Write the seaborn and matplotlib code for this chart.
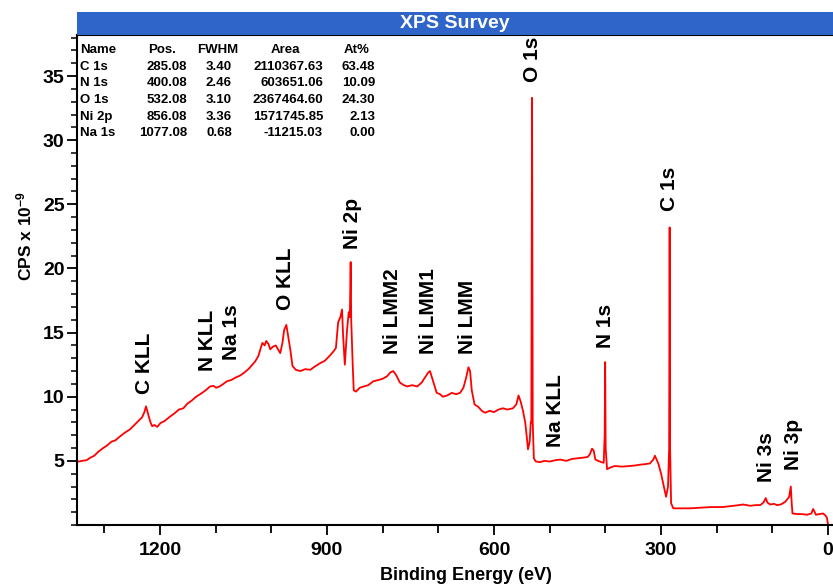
import numpy as np
import pandas as pd
import matplotlib
matplotlib.use("Agg")
import matplotlib.pyplot as plt
from matplotlib.ticker import MultipleLocator, FixedLocator
import seaborn as sns

# ---------------- data ----------------
binding_energy = [
    1349, 1340, 1332, 1325, 1318, 1311, 1302, 1295, 1287, 1280, 1272, 1263, 1254, 1246,
    1239, 1232, 1228, 1225, 1221, 1217, 1214, 1210, 1205, 1199, 1192, 1182, 1174, 1166,
    1158, 1151, 1143, 1135, 1126, 1118, 1110, 1104, 1099, 1093, 1086, 1080, 1072, 1064,
    1056, 1048, 1040, 1034, 1029, 1023, 1019, 1016, 1012, 1009, 1005, 1002, 997, 992,
    988, 984, 980, 977, 973, 970, 966, 962, 956, 948, 939, 930, 922, 913, 904, 895,
    889, 884, 880, 876, 873, 871, 868, 866, 864, 861, 859, 857.5, 856.5, 854, 852, 848,
    841, 834, 826, 817, 808, 800, 792, 786, 781, 776, 769, 762, 756, 747, 738, 730,
    724, 718, 715, 710, 703, 697, 692, 684, 676, 668, 661, 655, 650, 646, 643, 640,
    635, 628, 622, 616, 608, 600, 592, 584, 576, 566, 560, 556, 552, 548, 544, 541,
    539, 536, 534, 533, 531.7, 530.5, 528.5, 525, 517, 510, 500, 490, 481, 470, 460,
    450, 440, 432, 428, 424, 421, 418, 413, 407, 403, 401.3, 400.4, 399.5, 397, 390,
    383, 370, 356, 345, 338, 328, 320, 314, 311, 308, 305, 300, 295, 291, 287.5,
    285.5, 284.6, 283.8, 282, 278, 265, 248, 230, 210, 189, 170, 160, 153, 140, 130,
    122, 116, 112, 109, 104, 97, 92, 85, 77, 70, 67, 65.5, 64, 55, 47, 38, 30, 27,
    24, 22, 15, 9, 5, 2, 0,
]
cps = [
    4.92, 5.0, 5.05, 5.25, 5.4, 5.7, 6.0, 6.2, 6.5, 6.6, 6.9, 7.2, 7.45, 7.8,
    8.1, 8.4, 8.8, 9.25, 8.6, 8.0, 7.7, 7.8, 7.65, 7.95, 8.1, 8.45, 8.7, 9.0,
    9.1, 9.45, 9.7, 10.0, 10.25, 10.5, 10.8, 10.85, 10.7, 10.8, 11.0, 11.2, 11.3, 11.5,
    11.65, 11.9, 12.2, 12.5, 12.75, 13.2, 13.8, 14.2, 14.0, 14.35, 14.1, 13.7, 13.9, 14.0,
    13.7, 13.4, 14.2, 15.2, 15.6, 14.8, 13.7, 12.4, 12.1, 12.0, 12.15, 12.1, 12.35, 12.6, 12.8, 13.2,
    13.5, 13.8, 15.8, 16.2, 16.8, 14.7, 12.5, 13.8, 15.2, 16.6, 16.2, 20.5, 16.0, 12.7, 10.5, 10.4,
    10.7, 10.8, 10.9, 11.2, 11.3, 11.4, 11.6, 11.9, 12.0, 11.7, 11.1, 10.9, 10.8, 10.9, 10.8, 11.1,
    11.5, 11.9, 12.0, 11.3, 10.3, 10.2, 10.0, 10.1, 10.3, 10.2, 10.3, 10.7, 11.5, 12.3, 12.0, 10.5,
    9.4, 9.2, 8.9, 8.75, 8.9, 8.8, 9.0, 9.1, 9.0, 9.1, 9.4, 10.1, 9.6, 8.9, 8.0, 6.8,
    5.9, 6.5, 8.0, 8.0, 33.3, 8.0, 5.2, 4.95, 4.9, 5.0, 4.95, 5.05, 5.1, 5.0, 5.15,
    5.2, 5.25, 5.3, 5.5, 5.95, 5.8, 5.1, 5.0, 4.9, 4.85, 7.0, 12.7, 6.0, 4.35, 4.5,
    4.6, 4.55, 4.6, 4.65, 4.7, 4.75, 4.8, 5.1, 5.4, 5.1, 4.8, 4.0, 3.0, 2.2, 3.0,
    6.0, 23.2, 6.0, 1.7, 1.3, 1.3, 1.3, 1.35, 1.4, 1.4, 1.5, 1.55, 1.6, 1.5, 1.55,
    1.55, 1.75, 2.1, 1.75, 1.6, 1.65, 1.55, 1.6, 1.8, 2.2, 3.0, 1.8, 0.9, 0.85, 0.85, 0.8, 0.9, 1.25,
    1.0, 0.8, 0.85, 0.9, 0.75, 0.55, 0.0,
]

peak_labels = ["C KLL", "N KLL", "Na 1s", "O KLL", "Ni 2p", "Ni LMM2", "Ni LMM1", "Ni LMM",
               "O 1s", "Na KLL", "N 1s", "C 1s", "Ni 3s", "Ni 3p"]
label_be = [1227, 1114, 1071, 975, 855, 783, 718, 647, 531.7, 490, 400, 284, 110, 63]
label_cps = [10.2, 12.0, 12.9, 16.8, 21.5, 13.3, 13.3, 13.3, 34.5, 6.1, 13.8, 24.45, 3.35, 4.3]

table_header = ["Name", "Pos.", "FWHM", "Area", "At%"]
table_names = ["C 1s", "N 1s", "O 1s", "Ni 2p", "Na 1s"]
table_pos = ["285.08", "400.08", "532.08", "856.08", "1077.08"]
table_fwhm = ["3.40", "2.46", "3.10", "3.36", "0.68"]
table_area = ["2110367.63", "603651.06", "2367464.60", "1571745.85", "-11215.03"]
table_at = ["63.48", "10.09", "24.30", "2.13", "0.00"]

x_major = [1200, 900, 600, 300, 0]
x_minor = [1300, 1100, 1000, 800, 700, 500, 400, 200, 100]
y_major = [5, 10, 15, 20, 25, 30, 35]

# ---------------- style ----------------
sns.set_style("ticks")
plt.rcParams['font.family'] = ['Liberation Sans', 'DejaVu Sans']
plt.rcParams['font.weight'] = 'bold'
plt.rcParams['text.color'] = 'black'
plt.rcParams['axes.labelcolor'] = 'black'
plt.rcParams['xtick.color'] = 'black'
plt.rcParams['ytick.color'] = 'black'
plt.rcParams['mathtext.fontset'] = 'custom'
plt.rcParams['mathtext.rm'] = 'Liberation Sans:bold'
plt.rcParams['mathtext.bf'] = 'Liberation Sans:bold'
plt.rcParams['mathtext.default'] = 'bf'

W, H = 833, 586
fig = plt.figure(figsize=(W / 100, H / 100), dpi=100)
fig.patch.set_facecolor('white')

ax_l, ax_r, ax_t, ax_b = 77, 832, 35, 525
ax = fig.add_axes([ax_l / W, (H - ax_b) / H, (ax_r - ax_l) / W, (ax_b - ax_t) / H])

df = pd.DataFrame({"Binding Energy": binding_energy, "CPS": cps})
sns.lineplot(data=df, x="Binding Energy", y="CPS", sort=False, estimator=None,
             color="#FF0000", linewidth=1.3, ax=ax)

ax.set_xlim(1349, -7)
ax.set_ylim(0, 38.2)

ax.xaxis.set_major_locator(FixedLocator(x_major))
ax.xaxis.set_minor_locator(FixedLocator(x_minor))
ax.yaxis.set_major_locator(FixedLocator(y_major))
ax.yaxis.set_minor_locator(MultipleLocator(1))
ax.set_xticklabels([str(v) for v in x_major])
ax.set_yticklabels([str(v) for v in y_major])

ax.tick_params(axis='x', which='major', direction='out', length=7, width=1.3, pad=5,
               labelsize=14, colors='black')
ax.tick_params(axis='x', which='minor', direction='out', length=6, width=1.3, colors='black')
ax.tick_params(axis='y', which='major', direction='out', length=7, width=1.3, pad=2,
               labelsize=14, colors='black')
ax.tick_params(axis='y', which='minor', direction='out', length=4, width=1.1, colors='black')
for lab in ax.get_xticklabels() + ax.get_yticklabels():
    lab.set_fontweight('bold')
    lab.set_color('black')

for s in ['left', 'bottom', 'top']:
    ax.spines[s].set_linewidth(1.5)
    ax.spines[s].set_color('black')
ax.spines['right'].set_visible(False)

ax.set_xlabel("Binding Energy (eV)", fontsize=13, fontweight='bold', color='black')
ax.xaxis.set_label_coords(0.515, -0.085)
ax.set_ylabel("CPS x 10$^{-9}$", fontsize=12.5, fontweight='bold', color='black')
ax.yaxis.set_label_coords(-0.057, 0.59)

# peak labels
for name, bx, by in zip(peak_labels, label_be, label_cps):
    ax.text(bx, by, name, rotation=90, ha='center', va='bottom',
            fontsize=15, fontweight='bold', color='black')

# quantification table
def px(xp, yp):
    return ((xp - ax_l) / (ax_r - ax_l), (ax_b - yp) / (ax_b - ax_t))

row_y = [50, 67, 83, 100, 117, 133]
tf = dict(fontsize=9.5, fontweight='bold', color='black', va='center', transform=ax.transAxes)
hdr_x = [80, 162, 218, 285, 357]
hdr_ha = ['left', 'center', 'center', 'center', 'center']
for t, xp, ha in zip(table_header, hdr_x, hdr_ha):
    ax.text(*px(xp, row_y[0]), t, ha=ha, **tf)
for i in range(len(table_names)):
    yp = row_y[i + 1]
    ax.text(*px(80, yp), table_names[i], ha='left', **tf)
    ax.text(*px(187, yp), table_pos[i], ha='right', **tf)
    ax.text(*px(219, yp), table_fwhm[i], ha='center', **tf)
    ax.text(*px(323, yp), table_area[i], ha='right', **tf)
    ax.text(*px(375, yp), table_at[i], ha='right', **tf)

# title bar
bar = fig.add_axes([ax_l / W, (H - ax_t) / H, (W - ax_l) / W, 23 / H])
bar.set_facecolor('#2F64C8')
bar.set_xticks([])
bar.set_yticks([])
for s in bar.spines.values():
    s.set_visible(False)
bar.text(0.5, 0.5, "XPS Survey", ha='center', va='center', color='white',
         fontsize=14, fontweight='bold', transform=bar.transAxes)

fig.savefig("out.png", dpi=100, facecolor='white')
